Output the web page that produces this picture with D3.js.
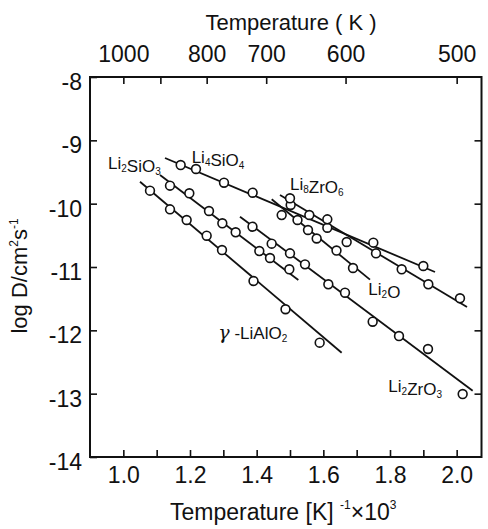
<!DOCTYPE html>
<html><head><meta charset="utf-8">
<script src="https://cdn.jsdelivr.net/npm/d3@7"></script>
<style>
body{margin:0;background:#fff}
text{font-family:"Liberation Sans",Arial,Helvetica,sans-serif;fill:#111}
</style>
</head><body>
<svg id="chart" width="488" height="529"></svg>
<script>
// ---- axis ticks ----
const xTickValues = [1.0,1.1,1.2,1.3,1.4,1.5,1.6,1.7,1.8,1.9,2.0];
const xTickLabels = ["1.0","","1.2","","1.4","","1.6","","1.8","","2.0"];
const yTickValues = [-8,-9,-10,-11,-12,-13,-14];
const yTickLabels = ["-8","-9","-10","-11","-12","-13","-14"];
const tempTickValues = [1000,900,800,700,600,500];
const tempTickLabels = ["1000","","800","700","600","500"];

// ---- series: measured points [1000/T, log D] ----
const li2sio3Points = [[1.14,-9.716],[1.198,-9.836],[1.257,-10.116],[1.297,-10.31],[1.337,-10.452],[1.408,-10.748],[1.44,-10.858],[1.498,-11.036]];
const li4sio4Points = [[1.172,-9.39],[1.218,-9.453],[1.302,-9.669],[1.388,-9.827],[1.502,-10.021],[1.612,-10.38],[1.75,-10.616],[1.9,-10.984]];
const li8zro6Points = [[1.5,-9.915],[1.558,-10.179],[1.612,-10.247],[1.67,-10.605],[1.758,-10.784],[1.835,-11.036],[1.915,-11.273],[2.01,-11.494]];
const li2oPoints = [[1.475,-10.18],[1.5225,-10.258],[1.554,-10.416],[1.58,-10.55],[1.6395,-10.74],[1.689,-11.016]];
const li2zro3Points = [[1.3875,-10.364],[1.445,-10.632],[1.5,-10.784],[1.545,-10.958],[1.615,-11.273],[1.665,-11.406],[1.748,-11.864],[1.827,-12.09],[1.914,-12.295],[2.018,-13.006]];
const lialo2Points = [[1.08,-9.795],[1.14,-10.089],[1.19,-10.258],[1.25,-10.506],[1.296,-10.732],[1.3905,-11.221],[1.4865,-11.667],[1.589,-12.195]];

// ---- fitted lines: [start, end] in [1000/T, log D] ----
const li2sio3Fit = [[1.11,-9.547],[1.525,-11.205]];
const li4sio4Fit = [[1.125,-9.279],[1.935,-11.079]];
const li8zro6Fit = [[1.47,-9.863],[2.031,-11.632]];
const li2oFit = [[1.445,-9.93],[1.74,-11.2]];
const li2zro3Fit = [[1.35,-10.206],[2.048,-12.953]];
const lialo2Fit = [[1.05,-9.653],[1.655,-12.353]];

// ---- labels ----
const seriesNames = ["Li2SiO3","Li4SiO4","Li8ZrO6","Li2O","Li2ZrO3","γ -LiAlO2"];
const labelAnchors = [[0.954,-9.453],[1.205,-9.353],[1.5,-9.784],[1.735,-11.442],[1.795,-12.974],[1.285,-12.142]];

const allPoints = [li2sio3Points,li4sio4Points,li8zro6Points,li2oPoints,li2zro3Points,lialo2Points];
const allFits = [li2sio3Fit,li4sio4Fit,li8zro6Fit,li2oFit,li2zro3Fit,lialo2Fit];

const svg = d3.select("#chart");
const L=90,R=481.5,T=77,B=457;
const x = d3.scaleLinear().domain([0.9,2.0745]).range([L,R]);
const y = d3.scaleLinear().domain([-8,-14]).range([T,B]);
const ink = "#111";

// bottom axis
const gB = svg.append("g").attr("transform",`translate(0,${B})`)
  .call(d3.axisBottom(x).tickValues(xTickValues).tickSize(-7).tickPadding(10)
    .tickFormat((d,i)=>xTickLabels[i]));
// top axis (temperature K -> 1000/T)
const gT = svg.append("g").attr("transform",`translate(0,${T})`)
  .call(d3.axisTop(x).tickValues(tempTickValues.map(t=>1000/t)).tickSize(-7).tickPadding(15)
    .tickFormat((d,i)=>tempTickLabels[i]));
// left axis
const gL = svg.append("g").attr("transform",`translate(${L},0)`)
  .call(d3.axisLeft(y).tickValues(yTickValues).tickSize(-7).tickPadding(8)
    .tickFormat((d,i)=>yTickLabels[i]));
// right axis
const gR = svg.append("g").attr("transform",`translate(${R},0)`)
  .call(d3.axisRight(y).tickValues(yTickValues.slice(1,-1)).tickSize(-7).tickFormat(""));

[gB,gT,gL,gR].forEach(g=>{
  g.select(".domain").remove();
  g.selectAll(".tick line").attr("stroke",ink).attr("stroke-width",1.6);
  g.selectAll("text").attr("font-size",23).attr("fill",ink)
    .style("font-family",'"Liberation Sans",Arial,sans-serif');
});
gL.selectAll("text").attr("dy","0.55em");

// frame
svg.append("rect").attr("x",L).attr("y",T).attr("width",R-L).attr("height",B-T)
  .attr("fill","none").attr("stroke",ink).attr("stroke-width",2);

// fitted lines
const line = d3.line().x(d=>x(d[0])).y(d=>y(d[1]));
svg.append("g").selectAll("path").data(allFits).join("path")
  .attr("d",line).attr("fill","none").attr("stroke",ink).attr("stroke-width",1.8);

// points
svg.append("g").selectAll("g").data(allPoints).join("g")
  .selectAll("circle").data(d=>d).join("circle")
  .attr("cx",d=>x(d[0])).attr("cy",d=>y(d[1])).attr("r",4.4)
  .attr("fill","#fff").attr("stroke",ink).attr("stroke-width",1.6);

// series labels with subscripts
function addLabel(name, anchor){
  const t = svg.append("text").attr("x",x(anchor[0])).attr("y",y(anchor[1])).attr("font-size",17);
  const re = /(\d|γ)/g;
  let last = 0, m;
  while((m = re.exec(name))){
    if(m.index>last) t.append("tspan").text(name.slice(last,m.index));
    if(m[1]==="γ"){
      t.append("tspan").attr("font-style","italic").attr("font-size",19)
        .style("font-family",'"DejaVu Serif",serif').text("γ");
    } else {
      t.append("tspan").attr("font-size",10).attr("dy",3).text(m[1]);
      t.append("tspan").attr("dy",-3).text("");
    }
    last = m.index+1;
  }
  if(last<name.length) t.append("tspan").text(name.slice(last));
}
seriesNames.forEach((n,i)=>addLabel(n,labelAnchors[i]));

// axis titles
svg.append("text").attr("x",291).attr("y",30).attr("text-anchor","middle")
  .attr("font-size",22).text("Temperature ( K )");
const bt = svg.append("text").attr("x",170).attr("y",520).attr("font-size",23);
bt.append("tspan").text("Temperature [K] ");
bt.append("tspan").attr("font-size",12).attr("dy",-11).text("-1");
bt.append("tspan").attr("dy",11).text("×10");
bt.append("tspan").attr("font-size",12).attr("dy",-11).text("3");

const yt = svg.append("text").attr("transform","translate(27,276) rotate(-90)")
  .attr("text-anchor","middle").attr("font-size",22);
yt.append("tspan").text("log D/cm");
yt.append("tspan").attr("font-size",12).attr("dy",-9).text("2");
yt.append("tspan").attr("dy",9).text("s");
yt.append("tspan").attr("font-size",12).attr("dy",-9).text("-1");
</script>
</body></html>
